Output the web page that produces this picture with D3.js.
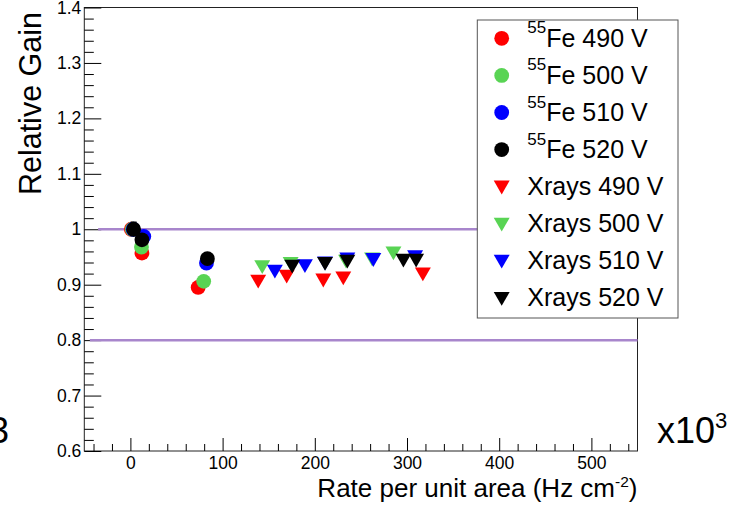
<!DOCTYPE html>
<html>
<head>
<meta charset="utf-8">
<script src="https://cdn.jsdelivr.net/npm/d3@7"></script>
<style>
  body { margin: 0; background: #fff; }
  text { font-family: "Liberation Sans", Arial, sans-serif; }
</style>
</head>
<body>
<script>
var width = 734,
    height = 507;

// 55Fe points (rate in kHz/cm2, relative gain)
var feRate490 = [1, 12.5, 73.5],   feGain490 = [1.0, 0.957, 0.895];
var feRate500 = [2, 12, 79.5],     feGain500 = [1.0, 0.968, 0.906];
var feRate510 = [3, 14.5, 82.5],   feGain510 = [1.0, 0.987, 0.939];
var feRate520 = [3.5, 12.5, 83.5], feGain520 = [1.0, 0.981, 0.947];
var feErr520 = [0.013, 0.005, 0.005];

// X-ray points
var xrRate490 = [138.6, 169.5, 209.2, 230.9, 317.2];
var xrGain490 = [0.907, 0.916, 0.909, 0.913, 0.920];
var xrRate500 = [143.0, 173.8, 233.9, 262.1, 285.3];
var xrGain500 = [0.933, 0.939, 0.943, 0.947, 0.958];
var xrRate510 = [156.7, 189.3, 211.1, 235.3, 263.5, 308.8];
var xrGain510 = [0.925, 0.935, 0.940, 0.947, 0.946, 0.951];
var xrRate520 = [175.5, 211.1, 235.3, 296.1, 309.9];
var xrGain520 = [0.934, 0.939, 0.943, 0.945, 0.945];

// reference lines: gain level, start rate, end rate
var refGain = [1.0, 0.8];
var refStart = [-35, -44];
var refEnd = [550, 550];

var xMajor = [0, 100, 200, 300, 400, 500];
var yMajor = [0.6, 0.7, 0.8, 0.9, 1.0, 1.1, 1.2, 1.3, 1.4];
var yLabels = ["0.6", "0.7", "0.8", "0.9", "1", "1.1", "1.2", "1.3", "1.4"];

var voltages = ["490 V", "500 V", "510 V", "520 V"];
var colors = ["#ff0000", "#59d454", "#0000ff", "#000000"];

var fe = [
  {rate: feRate490, gain: feGain490},
  {rate: feRate500, gain: feGain500},
  {rate: feRate510, gain: feGain510},
  {rate: feRate520, gain: feGain520, err: feErr520}
];
var xr = [
  {rate: xrRate490, gain: xrGain490},
  {rate: xrRate500, gain: xrGain500},
  {rate: xrRate510, gain: xrGain510},
  {rate: xrRate520, gain: xrGain520}
];

var frameL = 84.3, frameR = 637.5, frameT = 7.5, frameB = 451;

var x = d3.scaleLinear().domain([-50, 550]).range([frameL, frameR]);
var y = d3.scaleLinear().domain([0.6, 1.4]).range([frameB, frameT]);

var svg = d3.select("body")
  .append("svg")
  .attr("width", width)
  .attr("height", height);

// frame
svg.append("rect")
  .attr("x", frameL).attr("y", frameT)
  .attr("width", frameR - frameL).attr("height", frameB - frameT)
  .attr("fill", "none")
  .attr("stroke", "#222")
  .attr("stroke-width", 1);

function styleLabels(g) {
  g.select(".domain").remove();
  g.attr("font-size", null).attr("font-family", null);
  g.selectAll("text").attr("font-size", 17.5).attr("fill", "#000");
}

// x axis: minor then major
var xMinor = d3.range(-40, 551, 20).filter(function(v) { return v % 100 != 0; });
svg.append("g")
  .attr("transform", "translate(0," + frameB + ")")
  .call(d3.axisBottom(x).tickValues(xMinor).tickSizeInner(-7).tickSizeOuter(0).tickFormat(""))
  .call(styleLabels);
svg.append("g")
  .attr("transform", "translate(0," + frameB + ")")
  .call(d3.axisBottom(x).tickValues(xMajor).tickSizeInner(-13).tickSizeOuter(0).tickPadding(6))
  .call(styleLabels);

// y axis
var yMinor = d3.range(0.62, 1.4, 0.02).filter(function(v) {
  return Math.abs(Math.round(v * 10) - v * 10) > 0.01;
});
svg.append("g")
  .attr("transform", "translate(" + frameL + ",0)")
  .call(d3.axisLeft(y).tickValues(yMinor).tickSizeInner(-9.5).tickSizeOuter(0).tickFormat(""))
  .call(styleLabels);
svg.append("g")
  .attr("transform", "translate(" + frameL + ",0)")
  .call(d3.axisLeft(y).tickValues(yMajor).tickSizeInner(-17).tickSizeOuter(0).tickPadding(3)
    .tickFormat(function(d, i) { return yLabels[i]; }))
  .call(styleLabels);

// titles
svg.append("text")
  .attr("transform", "translate(41,12) rotate(-90)")
  .attr("text-anchor", "end")
  .attr("font-size", 30.5)
  .text("Relative Gain");

var xt = svg.append("text")
  .attr("x", frameR)
  .attr("y", 497)
  .attr("text-anchor", "end")
  .attr("font-size", 26);
xt.append("tspan").text("Rate per unit area (Hz cm");
xt.append("tspan").attr("font-size", 15.5).attr("dy", -10.5).text("-2");
xt.append("tspan").attr("dy", 10.5).text(")");

// multiplier
var mult = svg.append("text")
  .attr("x", 657)
  .attr("y", 443)
  .attr("font-family", "Lato, 'Open Sans', sans-serif")
  .attr("font-size", 36);
mult.append("tspan").text("x10");
mult.append("tspan").attr("font-size", 22).attr("dy", -15).text("3");

svg.append("text")
  .attr("x", 9)
  .attr("y", 443)
  .attr("text-anchor", "end")
  .attr("font-family", "Lato, 'Open Sans', sans-serif")
  .attr("font-size", 36)
  .text("3");

// reference lines
svg.append("g")
  .selectAll("line")
  .data(refGain)
  .enter().append("line")
  .attr("x1", function(d, i) { return x(refStart[i]); })
  .attr("x2", function(d, i) { return x(refEnd[i]); })
  .attr("y1", function(d) { return y(d); })
  .attr("y2", function(d) { return y(d); })
  .attr("stroke", "#a886cc")
  .attr("stroke-width", 2.5);

var tri = d3.symbol().type(d3.symbolTriangle).size(110);

// Fe circles
fe.forEach(function(s, k) {
  var pts = s.rate.map(function(r, i) { return {r: r, g: s.gain[i], e: s.err ? s.err[i] : 0}; });
  var g = svg.append("g");
  var withErr = pts.filter(function(p) { return p.e > 0; });
  g.selectAll("line.err")
    .data(withErr)
    .enter().append("line")
    .attr("x1", function(p) { return x(p.r); })
    .attr("x2", function(p) { return x(p.r); })
    .attr("y1", function(p) { return y(p.g - p.e); })
    .attr("y2", function(p) { return y(p.g + p.e); })
    .attr("stroke", colors[k]);
  g.selectAll("line.cap")
    .data(withErr)
    .enter().append("line")
    .attr("x1", function(p) { return x(p.r) - 3; })
    .attr("x2", function(p) { return x(p.r) + 3; })
    .attr("y1", function(p) { return y(p.g + p.e); })
    .attr("y2", function(p) { return y(p.g + p.e); })
    .attr("stroke", colors[k]);
  g.selectAll("circle")
    .data(pts)
    .enter().append("circle")
    .attr("cx", function(p) { return x(p.r); })
    .attr("cy", function(p) { return y(p.g); })
    .attr("r", 7.4)
    .attr("fill", colors[k]);
});

// X-ray triangles (pointing down)
xr.forEach(function(s, k) {
  svg.append("g")
    .selectAll("path")
    .data(s.rate.map(function(r, i) { return {r: r, g: s.gain[i]}; }))
    .enter().append("path")
    .attr("d", tri)
    .attr("transform", function(p) {
      return "translate(" + x(p.r) + "," + (y(p.g) - 1.5) + ") rotate(180)";
    })
    .attr("fill", colors[k]);
});

// legend
var lg = svg.append("g");
lg.append("rect")
  .attr("x", 477.3).attr("y", 20)
  .attr("width", 200.7).attr("height", 298)
  .attr("fill", "#fff")
  .attr("stroke", "#555")
  .attr("stroke-width", 1);

var rowY = function(i) { return 38.3 + i * 37.1; };

voltages.forEach(function(v, k) {
  lg.append("circle")
    .attr("cx", 501.7).attr("cy", rowY(k))
    .attr("r", 7.4)
    .attr("fill", colors[k]);
  var t = lg.append("text")
    .attr("x", 527.3)
    .attr("y", rowY(k) + 8.4)
    .attr("font-size", 25);
  t.append("tspan").attr("font-size", 17).attr("dy", -13.4).text("55");
  t.append("tspan").attr("dy", 13.4).text("Fe " + v);
});

voltages.forEach(function(v, k) {
  var i = k + 4;
  lg.append("path")
    .attr("d", tri)
    .attr("transform", "translate(501.7," + (rowY(i) - 1.5) + ") rotate(180)")
    .attr("fill", colors[k]);
  lg.append("text")
    .attr("x", 527.3)
    .attr("y", rowY(i) + 8.4)
    .attr("font-size", 25)
    .text("Xrays " + v);
});
</script>
</body>
</html>
